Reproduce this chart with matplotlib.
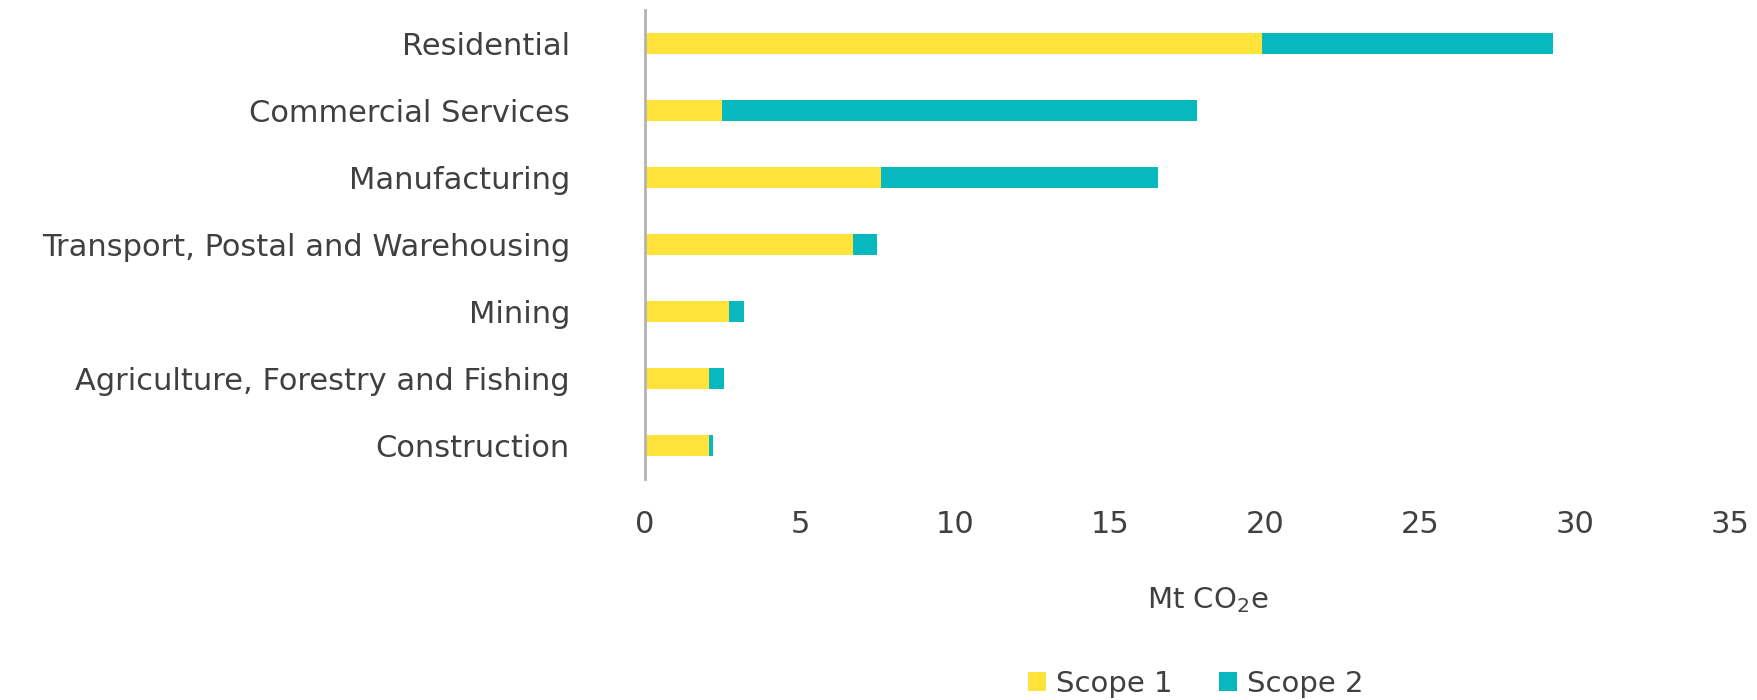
import matplotlib
matplotlib.use("Agg")
import matplotlib.pyplot as plt
from matplotlib.patches import Patch

# Emissions by sector (Mt CO2e), listed top to bottom
sectors = [
    "Residential",
    "Commercial Services",
    "Manufacturing",
    "Transport, Postal and Warehousing",
    "Mining",
    "Agriculture, Forestry and Fishing",
    "Construction",
]
scope1 = [19.9, 2.5, 7.6, 6.7, 2.7, 2.05, 2.05]
scope2 = [9.4, 15.3, 8.95, 0.8, 0.5, 0.5, 0.15]
x_ticks = [0, 5, 10, 15, 20, 25, 30, 35]

YELLOW = "#FFE33A"
TEAL = "#07B9BF"
TEXT = "#404040"
FS = 22

plt.rcParams["font.family"] = ["DejaVu Sans"]
plt.rcParams["mathtext.fontset"] = "dejavusans"

fig = plt.figure(figsize=(17.57, 7.0), dpi=100)
ax = fig.add_axes([0.3671, 0.3157, 0.6173, 0.67])

pos = list(range(len(sectors)))
ax.barh(pos, scope1, height=0.31, color=YELLOW, label="Scope 1")
ax.barh(pos, scope2, left=scope1, height=0.31, color=TEAL, label="Scope 2")

ax.set_ylim(len(sectors) - 0.5, -0.5)
ax.set_xlim(0, 35)
ax.set_xticks(x_ticks)
ax.set_yticks(pos)
ax.set_yticklabels(sectors)

for s in ("top", "right", "bottom"):
    ax.spines[s].set_visible(False)
ax.spines["left"].set_color("#B3B3B3")
ax.spines["left"].set_linewidth(2)

ax.tick_params(axis="y", length=0, pad=54, labelsize=FS, labelcolor=TEXT)
ax.tick_params(axis="x", length=0, pad=22, labelsize=FS, labelcolor=TEXT)

fig.text(1208 / 1757, 1 - 600 / 700, "Mt CO$_2$e", ha="center", va="center",
         fontsize=FS - 1, color=TEXT)

handles = [Patch(facecolor=YELLOW, edgecolor="none", label="Scope 1"),
           Patch(facecolor=TEAL, edgecolor="none", label="Scope 2")]
fig.legend(handles=handles, loc="center", bbox_to_anchor=(1196 / 1757, 1 - 684 / 700),
           ncol=2, frameon=False, fontsize=FS - 1, handlelength=0.6, handleheight=0.6,
           handletextpad=0.35, columnspacing=1.6, labelcolor=TEXT)

fig.savefig("out.png", dpi=100, facecolor="white")
